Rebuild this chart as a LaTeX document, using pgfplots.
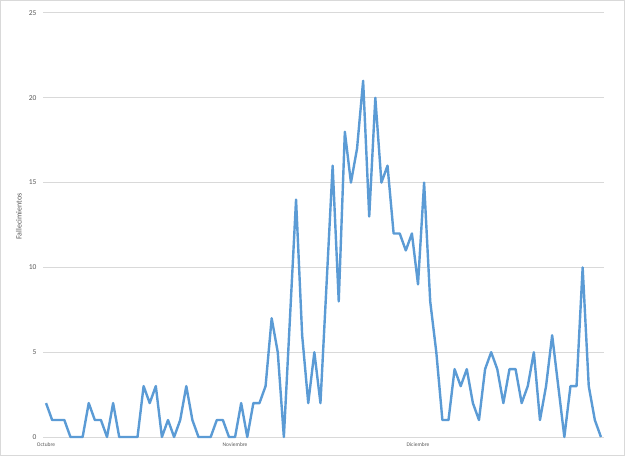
\documentclass[border=0pt]{standalone}
\usepackage{pgfplots}
\pgfplotsset{compat=1.18}
\usepackage{fontspec}
\setmainfont{Carlito}

\definecolor{serieblue}{HTML}{5B9BD5}
\definecolor{gridgray}{HTML}{D9D9D9}
\definecolor{labelgray}{HTML}{595959}

% daily deaths, 1 Oct (0) to 31 Dec (91)
\pgfplotstableread{
day deaths
0 2
1 1
2 1
3 1
4 0
5 0
6 0
7 2
8 1
9 1
10 0
11 2
12 0
13 0
14 0
15 0
16 3
17 2
18 3
19 0
20 1
21 0
22 1
23 3
24 1
25 0
26 0
27 0
28 1
29 1
30 0
31 0
32 2
33 0
34 2
35 2
36 3
37 7
38 5
39 0
40 7
41 14
42 6
43 2
44 5
45 2
46 9
47 16
48 8
49 18
50 15
51 17
52 21
53 13
54 20
55 15
56 16
57 12
58 12
59 11
60 12
61 9
62 15
63 8
64 5
65 1
66 1
67 4
68 3
69 4
70 2
71 1
72 4
73 5
74 4
75 2
76 4
77 4
78 2
79 3
80 5
81 1
82 3
83 6
84 3
85 0
86 3
87 3
88 10
89 3
90 1
91 0
}\deaths

\begin{document}
\begin{tikzpicture}[x=1pt,y=1pt]
\path[use as bounding box] (0,0) rectangle (625,456);
\draw[gridgray, line width=1pt] (0.5,0.5) rectangle (624.5,455.5);
\begin{axis}[
  at={(43pt,19pt)}, anchor=south west,
  scale only axis,
  width=561pt, height=424pt,
  xmin=-0.5, xmax=91.5,
  ymin=0, ymax=25,
  axis line style={draw=none},
  ytick={0,5,...,25},
  xtick={0,31,61},
  xticklabels={Octubre,Noviembre,Diciembre},
  ymajorgrids,
  major grid style={gridgray, line width=1pt},
  major tick length=0pt,
  yticklabel style={font=\fontsize{7.5}{9}\selectfont, text=labelgray, xshift=-3pt},
  xticklabel style={font=\fontsize{5.5}{7}\selectfont, text=labelgray, yshift=-2.5pt},
  /pgf/number format/assume math mode=true,
  ylabel={Fallecimientos},
  ylabel style={font=\fontsize{8}{10}\selectfont, text=labelgray,
    at={(axis description cs:-0.043,0.52)}, anchor=center},
  clip=false,
]
\addplot[serieblue, line width=2.4pt, line join=round, no marks] table[x=day, y=deaths] {\deaths};
\end{axis}
\end{tikzpicture}
\end{document}
